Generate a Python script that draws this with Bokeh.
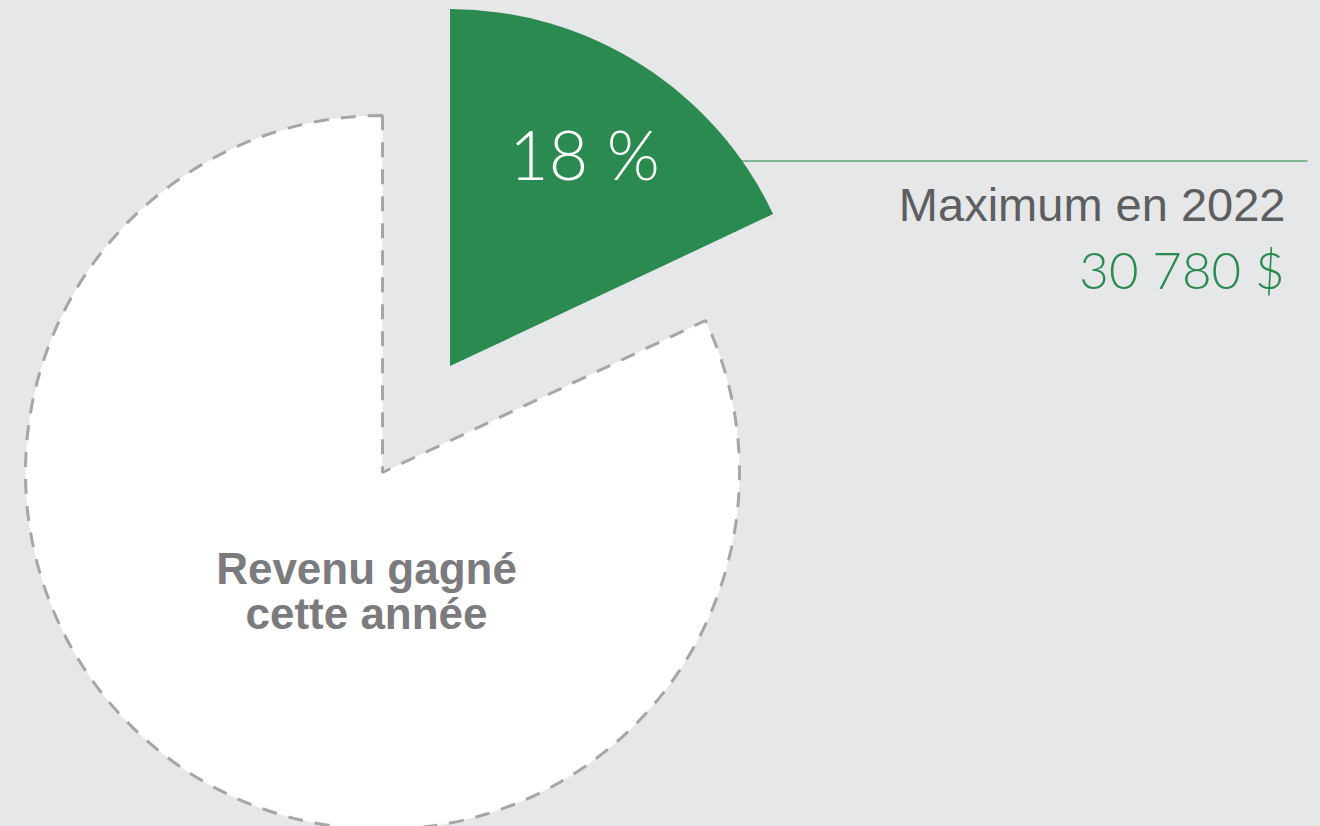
import math
from bokeh.plotting import figure
from bokeh.models import Range1d, GlobalInlineStyleSheet
from bokeh.core.properties import value
from bokeh.embed import file_html
from bokeh.resources import INLINE

# ---- data ----
categories = ["Revenu gagné cette année", "Maximum en 2022"]
shares = [82, 18]
share_label = "18 %"
max_title = "Maximum en 2022"
max_amount = "30 780 $"
center_lines = ["Revenu gagné", "cette année"]

BG = "#e6e7e9"
GREEN = "#2a8a4f"

W, H = 1320, 826
p = figure(width=W, height=H, output_backend="svg", toolbar_location=None,
           x_range=Range1d(0, W), y_range=Range1d(0, H),
           min_border=0, outline_line_color=None,
           background_fill_color=BG, border_fill_color=BG)
p.axis.visible = False
p.grid.visible = False
p.stylesheets = [GlobalInlineStyleSheet(
    css="html,body{margin:0;padding:0;overflow:hidden;background:%s;}" % BG)]

# pie geometry (y up, 1 unit = 1 px)
cx, cy = 382, H - 472
R = 357
total = sum(shares)
start = math.pi / 2
green_span = shares[1] / total * 2 * math.pi
g_start = start - green_span
g_end = start
mid = (g_start + g_end) / 2
explode = 126
gx, gy = cx + explode * math.cos(mid), cy + explode * math.sin(mid)

# leader line (under green slice)
p.segment(x0=[gx + 150], y0=[H - 160.5], x1=[1307], y1=[H - 160.5],
          line_color="#5fa877", line_width=1.5)

# white slice with dashed outline
p.wedge(x=[cx], y=[cy], radius=R, start_angle=g_end, end_angle=g_start,
        direction="anticlock", fill_color="white", line_color="#a6a6a6",
        line_width=3, line_dash="15 12")

# green slice exploded
p.wedge(x=[gx], y=[gy], radius=R, start_angle=g_start, end_angle=g_end,
        direction="anticlock", fill_color=GREEN, line_color=None)

thin = value("Lato Light, Lato")
p.text(x=[584], y=[H - 153], text=[share_label], text_color="white",
       text_font=thin, text_font_size="68px", text_align="center",
       text_baseline="alphabetic")

p.text(x=[1285], y=[H - 204], text=[max_title], text_color="#5d5e60",
       text_font=value("Liberation Sans"), text_font_size="47px",
       text_align="right", text_baseline="alphabetic")
p.text(x=[1284], y=[H - 269], text=[max_amount], text_color=GREEN,
       text_font=thin, text_font_size="51px", text_align="right",
       text_baseline="alphabetic")

p.text(x=[366, 366], y=[H - 568, H - 613], text=center_lines,
       text_color="#7b7b7e", text_font=value("Liberation Sans"),
       text_font_style="bold", text_font_size="44px", text_align="center",
       text_baseline="alphabetic")

open("out.html", "w").write(file_html(p, INLINE))
